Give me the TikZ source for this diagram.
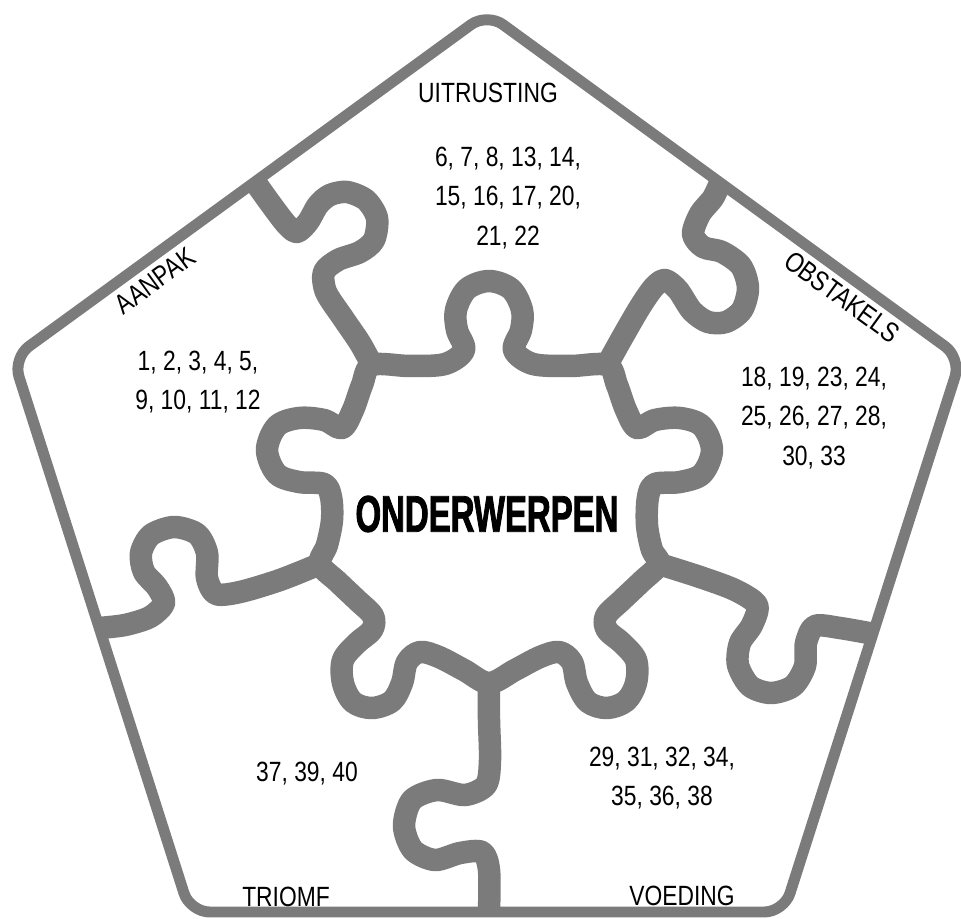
\documentclass[tikz,border=0pt]{standalone}
\usepackage{fontspec}
\newfontfamily\lblfont[FakeStretch=0.82]{Liberation Sans}
\newfontfamily\ttlfont[FakeStretch=0.64,FakeBold=1.6]{Liberation Sans}
\definecolor{piecegray}{HTML}{7B7B7B}

\begin{document}
\begin{tikzpicture}[x=0.025cm,y=-0.025cm,
  rim/.style={draw=piecegray,line width=7.8pt,rounded corners=14pt,line join=round},
  seam/.style={draw=piecegray,line width=16pt,line join=round},
  topic/.style={font=\lblfont\fontsize{19.8}{28.35}\selectfont,inner sep=0pt},
  nums/.style={font=\lblfont\fontsize{19.8}{28.35}\selectfont,align=center,inner sep=0pt},
  title/.style={font=\ttlfont\bfseries\fontsize{36.6}{40}\selectfont,inner sep=0pt}]
  \fill[white] (0,0) rectangle (961,919);
  \useasboundingbox (0,0) rectangle (961,919);

  % outer pentagon
  \draw[rim] (250,185.5) -- (487,13) -- (961,358) -- (784,912) -- (190,912) -- (13,358) -- cycle;

  % where the seams meet the middle piece
  \coordinate (j1) at (372,365);
  \coordinate (j2) at (607,365);
  \coordinate (j3) at (659,564);
  \coordinate (j4) at (489,683);
  \coordinate (j5) at (320,564);

  % middle piece
  \draw[seam] plot[smooth cycle,tension=0.55] coordinates {(j1) (410,366) (445,364) (464,350)
    (457,330) (456,310) (467,289) (489,281) (511,289) (522,310) (521,330) (514,350) (533,364)
    (570,366) (j2) (617,385) (626,410) (637,428) (655,420) (680,418) (702,426) (712,450)
    (702,474) (680,482) (655,484) (648,497) (647,525) (652,550) (j3) (641,582) (622,600)
    (606,616) (607,630) (622,643) (636,660) (636,683) (626,701) (607,708) (588,702) (577,683)
    (572,662) (559,652) (540,657) (515,670) (j4) (464,670) (439,657) (420,652) (407,662)
    (402,683) (392,701) (372,708) (353,702) (343,683) (343,660) (357,643) (372,630) (373,616)
    (357,600) (338,582) (j5) (327,545) (332,520) (331,497) (324,484) (299,482) (277,474)
    (267,450) (277,426) (299,418) (324,420) (342,428) (353,410) (362,385)};

  % seams out to the rim
  \draw[seam] plot[smooth] coordinates {(255,182) (273,207) (287,225) (297,232) (308,222)
    (318,205) (330,195) (347,192) (366,200) (377,218) (374,240) (360,252) (338,260) (324,272)
    (326,292) (343,318) (360,343) (j1)};
  \draw[seam] plot[smooth] coordinates {(j2) (622,338) (640,307) (654,287) (665,280) (678,290)
    (692,311) (708,322) (726,322) (742,310) (748,288) (741,266) (722,252) (703,247) (693,234)
    (700,214) (713,198) (720,183)};
  \draw[seam] plot[smooth] coordinates {(99,628) (125,625) (150,617) (164,603) (157,587)
    (144,572) (141,553) (151,535) (174,527) (197,534) (207,553) (207,578) (216,594) (240,592)
    (280,580) (j5)};
  \draw[seam] plot[smooth] coordinates {(j3) (700,577) (735,590) (757,605) (752,625) (740,643)
    (738,665) (750,686) (771,693) (793,686) (805,666) (806,643) (815,626) (840,628) (874,634)};
  \draw[seam] plot[smooth] coordinates {(j4) (489,720) (490,760) (486,785) (465,795) (437,790)
    (412,800) (404,826) (413,850) (435,860) (460,853) (482,852) (489,870) (489,912)};

  % labels
  \node[title] (middle) at (487,514) {ONDERWERPEN};
  \node[topic] (uitrusting) at (488,93) {UITRUSTING};
  \node[topic,rotate=36] (aanpak) at (155,281) {AANPAK};
  \node[topic,rotate=-36] (obstakels) at (842,297) {OBSTAKELS};
  \node[topic] (triomf) at (286,897) {TRIOMF};
  \node[topic] (voeding) at (682,896) {VOEDING};
  \node[nums] (uitrustingnr) at (508,198) {6, 7, 8, 13, 14,\\15, 16, 17, 20,\\21, 22};
  \node[nums] (aanpaknr) at (198,382) {1, 2, 3, 4, 5,\\9, 10, 11, 12};
  \node[nums] (obstakelsnr) at (814,418) {18, 19, 23, 24,\\25, 26, 27, 28,\\30, 33};
  \node[nums] (triomfnr) at (307,774) {37, 39, 40};
  \node[nums] (voedingnr) at (662,778) {29, 31, 32, 34,\\35, 36, 38};
\end{tikzpicture}
\end{document}
